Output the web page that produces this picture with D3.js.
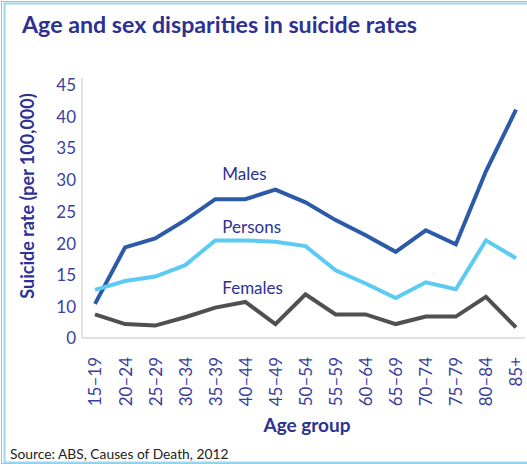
<!DOCTYPE html>
<html>
<head>
<meta charset="utf-8">
<script src="https://cdn.jsdelivr.net/npm/d3@7/dist/d3.min.js"></script>
<style>
  html, body { margin: 0; padding: 0; background: #fff; }
  svg { display: block; }
  text { font-family: Lato, "Open Sans", sans-serif; }
</style>
</head>
<body>
<svg id="chart" width="527" height="464"></svg>
<script>
// Age groups and suicide rates (per 100,000), Australia 2012
const ageGroups = ["15–19", "20–24", "25–29", "30–34", "35–39", "40–44", "45–49",
                   "50–54", "55–59", "60–64", "65–69", "70–74", "75–79", "80–84", "85+"];
const males   = [10.5, 19.4, 20.8, 23.7, 27.0, 27.0, 28.5, 26.5, 23.7, 21.3, 18.7, 22.1, 19.9, 31.4, 41.1];
const persons = [12.7, 14.1, 14.8, 16.6, 20.5, 20.5, 20.3, 19.6, 15.8, 13.7, 11.4, 13.9, 12.8, 20.5, 17.7];
const females = [7.6, 4.5, 4.0, 6.7, 9.8, 10.8, 4.5, 12.0, 7.6, 7.6, 4.5, 6.9, 6.9, 11.6, 3.4];
const yTicks  = [0, 10, 15, 20, 25, 30, 35, 40, 45];

const seriesList = [
  { name: "Males",   values: males,   color: "#2b5aa9", labelAt: 30.0 },
  { name: "Persons", values: persons, color: "#5ccbf4", labelAt: 21.6 },
  { name: "Females", values: females, color: "#505050", labelAt: 12.0 }
];

const svg = d3.select("#chart");
const ink = "#2e3192";
const tickInk = "#3b40a0";

// frame
svg.append("rect").attr("x", 1.5).attr("y", 1.5).attr("width", 540).attr("height", 462)
  .attr("fill", "none").attr("stroke", "#b8b8b8").attr("stroke-width", 1);
svg.append("rect").attr("x", 4.5).attr("y", 3.5).attr("width", 540).attr("height", 459)
  .attr("fill", "none").attr("stroke", "#9ad8f2").attr("stroke-width", 2);

// title
svg.append("text").attr("x", 22).attr("y", 33)
  .attr("font-size", 23.2).attr("font-weight", "bold").attr("fill", ink)
  .text("Age and sex disparities in suicide rates");

// scales
const x = d3.scalePoint().domain(ageGroups).range([95, 516]);
const y = d3.scaleLinear().domain([0, 10, 45]).range([338, 307, 85]);

// axis lines
svg.append("line").attr("x1", 82).attr("x2", 82).attr("y1", 78).attr("y2", 338)
  .attr("stroke", "#d9d9d9").attr("stroke-width", 1.5);
svg.append("line").attr("x1", 82).attr("x2", 525).attr("y1", 338).attr("y2", 338)
  .attr("stroke", "#d9d9d9").attr("stroke-width", 1.5);

// y axis
const yAxis = svg.append("g").attr("transform", "translate(82,0)")
  .call(d3.axisLeft(y).tickValues(yTicks).tickSize(0).tickPadding(6));
yAxis.select(".domain").remove();
yAxis.selectAll("text").attr("font-size", 17).attr("fill", tickInk)
  .attr("font-family", "Lato, sans-serif");

// x axis (rotated labels)
const xAxis = svg.append("g").attr("transform", "translate(0,338)")
  .call(d3.axisBottom(x).tickSize(0));
xAxis.select(".domain").remove();
xAxis.selectAll("text")
  .attr("font-size", 17).attr("fill", tickInk).attr("font-family", "Lato, sans-serif")
  .attr("text-anchor", "end").attr("dy", "0.35em")
  .attr("transform", "translate(0,19) rotate(-90)")
  .attr("x", 0).attr("y", 0);

// axis titles
svg.append("text")
  .attr("transform", "translate(34,196) rotate(-90)")
  .attr("text-anchor", "middle").attr("font-size", 18).attr("font-weight", "bold")
  .attr("fill", ink).text("Suicide rate (per 100,000)");
svg.append("text").attr("x", 307).attr("y", 432)
  .attr("text-anchor", "middle").attr("font-size", 19).attr("font-weight", "bold")
  .attr("fill", ink).text("Age group");

// source note
svg.append("text").attr("x", 10).attr("y", 459)
  .attr("font-size", 13.8).attr("fill", "#222").text("Source: ABS, Causes of Death, 2012");

// lines
const line = d3.line().x((d, i) => x(ageGroups[i])).y(d => y(d));
seriesList.forEach(s => {
  svg.append("path").datum(s.values)
    .attr("d", line).attr("fill", "none")
    .attr("stroke", s.color).attr("stroke-width", 4)
    .attr("stroke-linejoin", "miter");
  svg.append("text")
    .attr("x", x("35–39") + 7).attr("y", y(s.labelAt))
    .attr("font-size", 17).attr("fill", ink).text(s.name);
});
</script>
</body>
</html>
